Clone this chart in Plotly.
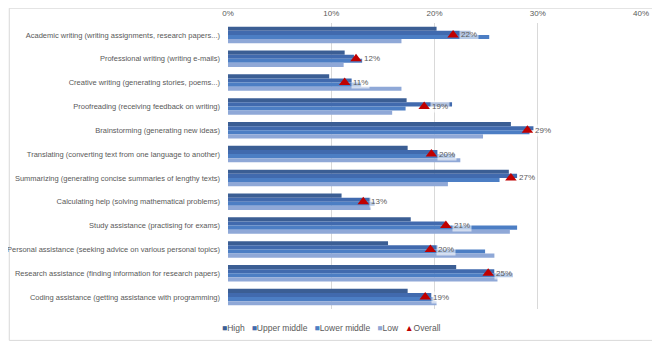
import plotly.graph_objects as go

categories = [
    "Academic writing (writing assignments, research papers...)",
    "Professional writing (writing e-mails)",
    "Creative writing (generating stories, poems...)",
    "Proofreading (receiving feedback on writing)",
    "Brainstorming (generating new ideas)",
    "Translating (converting text from one language to another)",
    "Summarizing (generating concise summaries of lengthy texts)",
    "Calculating help (solving mathematical problems)",
    "Study assistance (practising for exams)",
    "Personal assistance (seeking advice on various personal topics)",
    "Research assistance (finding information for research papers)",
    "Coding assistance (getting assistance with programming)",
]

high = [20.2, 11.3, 9.8, 17.3, 27.4, 17.4, 27.2, 11.0, 17.7, 15.5, 22.1, 17.4]
upper_middle = [23.5, 12.2, 12.0, 21.7, 29.6, 20.3, 28.0, 13.8, 21.0, 20.3, 25.8, 19.7]
lower_middle = [25.3, 13.0, 12.9, 17.2, 29.2, 22.0, 26.3, 14.2, 28.0, 24.9, 27.6, 19.9]
low = [16.8, 11.2, 16.8, 15.9, 24.7, 22.5, 21.3, 13.8, 27.3, 25.8, 26.1, 20.2]
overall = [21.8, 12.4, 11.3, 19.0, 29.0, 19.7, 27.4, 13.1, 21.1, 19.6, 25.2, 19.1]

x_ticks = [0, 10, 20, 30, 40]
x_tick_labels = ["0%", "10%", "20%", "30%", "40%"]

series = [
    ("High", high, "#3B5E94"),
    ("Upper middle", upper_middle, "#416AAE"),
    ("Lower middle", lower_middle, "#4C7EC4"),
    ("Low", low, "#8FA8D7"),
]
overall_name = "Overall"
overall_color = "#C00000"

FONT = "Liberation Sans"
GREY = "#595959"

fig = go.Figure()
for name, vals, col in series:
    fig.add_trace(go.Bar(
        y=categories, x=vals, name=name, orientation="h",
        marker=dict(color=col, line=dict(width=0)),
    ))

fig.add_trace(go.Scatter(
    y=categories, x=overall, name=overall_name, mode="markers",
    marker=dict(symbol="triangle-up", color=overall_color, size=10),
))

annotations = []
for cat, v in zip(categories, overall):
    annotations.append(dict(
        x=v, y=cat, xref="x", yref="y", text=f"{round(v):d}%",
        showarrow=False, xanchor="left", xshift=6, yshift=0,
        bgcolor="rgba(255,255,255,0.6)", borderpad=1,
        font=dict(family=FONT, size=8, color=GREY),
    ))

# compact legend drawn as text from the series names/colours
legend_parts = [f"<span style='color:{col}'>■</span>{name}" for name, _, col in series]
legend_parts.append(f"<span style='color:{overall_color}'>▲</span>{overall_name}")
annotations.append(dict(
    xref="paper", yref="paper", x=0.25, y=-0.068, xanchor="center", yanchor="middle",
    text="&nbsp;&nbsp;&nbsp;".join(legend_parts), showarrow=False,
    font=dict(family=FONT, size=8.5, color=GREY),
))

fig.update_layout(
    width=652, height=336,
    margin=dict(l=219.5, r=19, t=15.3, b=34.7, autoexpand=False),
    paper_bgcolor="white", plot_bgcolor="white",
    barmode="group", bargap=0.31, bargroupgap=0,
    font=dict(family=FONT, size=8, color=GREY),
    annotations=annotations,
    showlegend=False,
    shapes=[dict(
        type="rect", xref="paper", yref="paper",
        x0=-0.5296, x1=1.036, y0=-0.1098, y1=1.0517,
        line=dict(color="#D9D9D9", width=1), fillcolor="rgba(0,0,0,0)",
        layer="below",
    )],
)

fig.update_xaxes(
    side="top", range=[0, 40], tickvals=x_ticks, ticktext=x_tick_labels,
    showgrid=True, gridcolor="#D9D9D9", gridwidth=1, zeroline=False,
    showline=False, ticks="", automargin=False, ticklabelstandoff=4,
    tickfont=dict(family=FONT, size=8, color=GREY),
)
fig.update_yaxes(
    range=[len(categories) - 0.5, -0.5], autorange=False,
    showgrid=False, showline=False, ticks="",
    ticklabelstandoff=7, automargin=False,
    tickfont=dict(family=FONT, size=7.5, color=GREY),
)

fig.write_html("out.html")
